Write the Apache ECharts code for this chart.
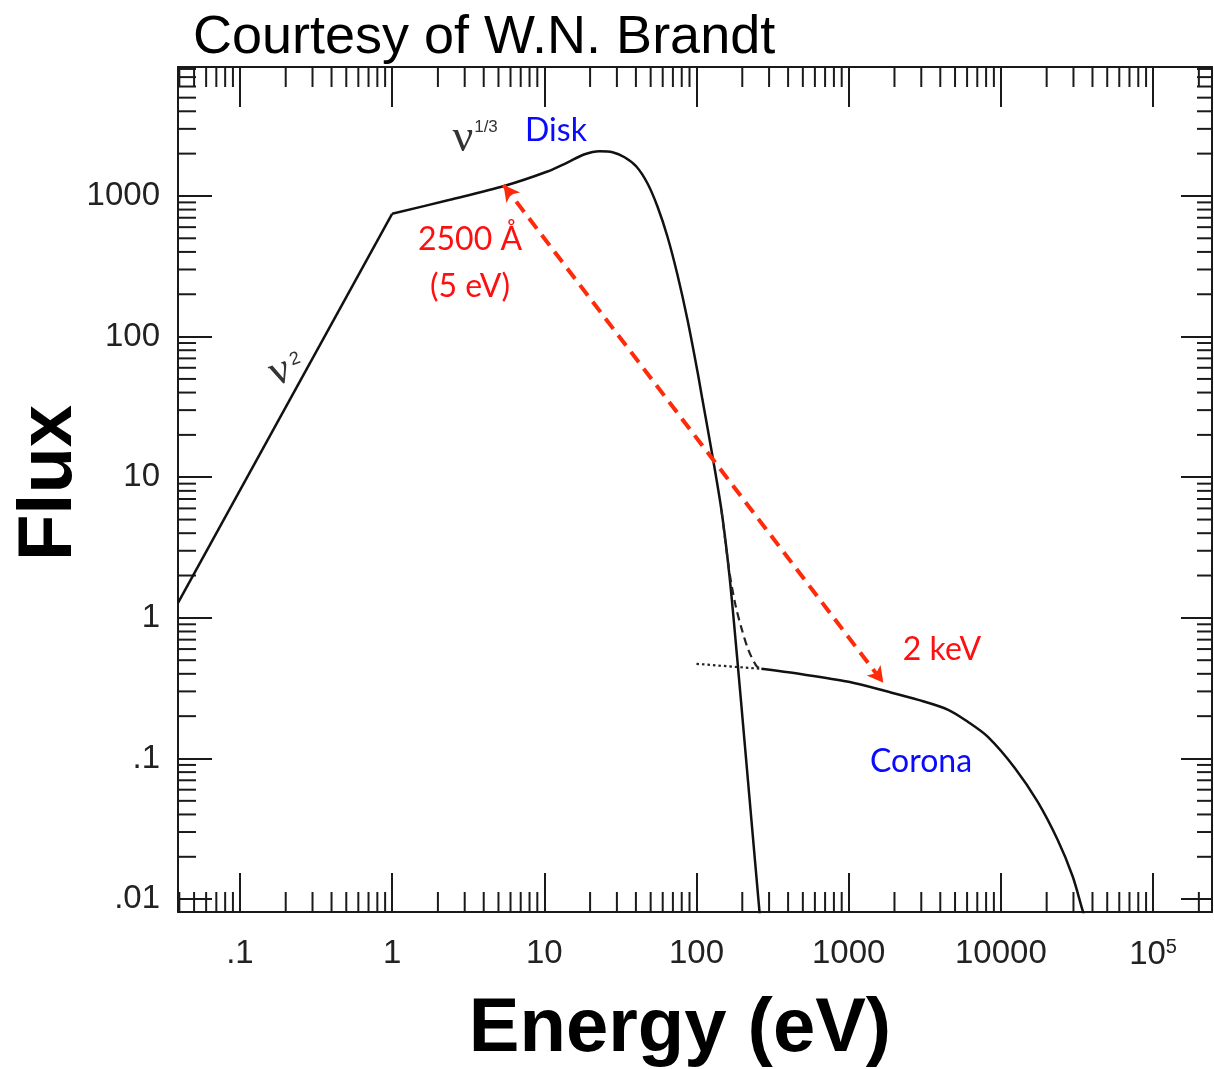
<!DOCTYPE html>
<html>
<head>
<meta charset="utf-8">
<script src="https://cdn.jsdelivr.net/npm/echarts@6/dist/echarts.min.js"></script>
<style>
html,body{margin:0;padding:0;background:#fff;}
#chart{width:1214px;height:1069px;}
</style>
</head>
<body>
<div id="chart"></div>
<script>
// ---- axis ranges & tick labels ----
const xMin = 0.0392, xMax = 244000;
const yMin = 0.0081, yMax = 8260;
const xTickExps = [-1, 0, 1, 2, 3, 4, 5];
const xTickLabels = ['.1', '1', '10', '100', '1000', '10000', '10{sup|5}'];
const yTickExps = [-2, -1, 0, 1, 2, 3];
const yTickLabels = ['.01', '.1', '1', '10', '100', '1000'];
const minorMultipliers = [2, 3, 4, 5, 6, 7, 8, 9];

// ---- disk (nu^2 rise) ----
const riseE = [0.0392, 1];
const riseF = [1.28, 747];
// ---- disk (nu^1/3 + exponential cutoff) ----
const diskE = [1, 2.4, 5.51, 10.38, 14.05, 18.44, 23.1, 28.1, 33.7, 40.4, 47.8, 55.5, 64.5, 75.0, 87.3, 101.6, 109.5, 125.3, 145.8, 164.5, 185.6, 206.5, 229.6, 263];
const diskF = [747, 940, 1182, 1486, 1722, 1981, 2080, 2047, 1885, 1614, 1222, 838, 513, 275, 131.6, 56.2, 35.5, 15.7, 5.87, 2.02, 0.503, 0.1356, 0.0366, 0.00689];
// ---- total (dashed) ----
const sumE = [145.8, 164.5, 180.3, 197.3, 219.3, 247.4, 266.9];
const sumF = [5.87, 2.13, 1.237, 0.849, 0.592, 0.456, 0.434];
// ---- corona extrapolation (dotted) ----
const dotE = [100, 266.9];
const dotF = [0.471, 0.434];
// ---- corona ----
const coronaE = [266.9, 471, 1000, 1824, 2868, 4508, 6085, 8222, 12350, 17470, 23600, 29580, 34360, 37070];
const coronaF = [0.434, 0.400, 0.351, 0.298, 0.261, 0.222, 0.182, 0.1425, 0.0857, 0.0491, 0.0264, 0.0146, 0.00838, 0.00634];
// ---- alpha_ox arrow ----
const arrowE = [5.4, 1690];
const arrowF = [1198, 0.345];

const zip = (a, b) => a.map((v, i) => [v, b[i]]);

const xMinor = [], yMinor = [];
for (let e = -2; e <= 5; e++) {
  minorMultipliers.forEach(m => {
    const v = m * Math.pow(10, e);
    if (v > xMin && v < xMax) xMinor.push([v, 1]);
    if (v > yMin && v < yMax) yMinor.push([1, v]);
  });
}

function fmt(exps, labels) {
  return function (v) {
    const l = Math.log10(v);
    const e = Math.round(l);
    if (Math.abs(l - e) > 1e-6) return '';
    const i = exps.indexOf(e);
    return i >= 0 ? labels[i] : '';
  };
}

const axisColor = '#1a1a1a';
const lblStyle = {
  fontFamily: 'Liberation Sans', fontSize: 33, color: '#222',
  rich: { sup: { fontFamily: 'Liberation Sans', fontSize: 20, color: '#222', verticalAlign: 'bottom', padding: [0, 0, 16, 0] } }
};

const curveStyle = { color: '#111', width: 2.5 };

function tickRender(isX) {
  return function (params, api) {
    const cs = params.coordSys;
    const p = api.coord([api.value(0), api.value(1)]);
    const st = { stroke: axisColor, lineWidth: 2 };
    if (isX) {
      const x = p[0];
      return { type: 'group', children: [
        { type: 'line', shape: { x1: x, y1: cs.y + cs.height, x2: x, y2: cs.y + cs.height - 20 }, style: st },
        { type: 'line', shape: { x1: x, y1: cs.y, x2: x, y2: cs.y + 20 }, style: st }
      ]};
    } else {
      const y = p[1];
      return { type: 'group', children: [
        { type: 'line', shape: { x1: cs.x, y1: y, x2: cs.x + 18, y2: y }, style: st },
        { type: 'line', shape: { x1: cs.x + cs.width, y1: y, x2: cs.x + cs.width - 15, y2: y }, style: st }
      ]};
    }
  };
}

const chart = echarts.init(document.getElementById('chart'), null, { renderer: 'canvas' });
const option = {
  animation: false,
  backgroundColor: '#fff',
  grid: { left: 178, top: 67, right: 2, bottom: 157, containLabel: false, outerBoundsMode: 'none' },
  xAxis: [
    { type: 'log', min: xMin, max: xMax, position: 'bottom',
      axisLine: { show: true, lineStyle: { color: axisColor, width: 2 } },
      axisTick: { show: true, inside: true, length: 39, lineStyle: { color: axisColor, width: 2 } },
      axisLabel: Object.assign({ margin: 25, formatter: fmt(xTickExps, xTickLabels), showMinLabel: true, showMaxLabel: true }, lblStyle),
      splitLine: { show: false } },
    { type: 'log', min: xMin, max: xMax, position: 'top',
      axisLine: { show: true, lineStyle: { color: axisColor, width: 2 } },
      axisTick: { show: true, inside: true, length: 40, lineStyle: { color: axisColor, width: 2 } },
      axisLabel: { show: false }, splitLine: { show: false } }
  ],
  yAxis: [
    { type: 'log', min: yMin, max: yMax, position: 'left',
      axisLine: { show: true, lineStyle: { color: axisColor, width: 2 } },
      axisTick: { show: true, inside: true, length: 34, lineStyle: { color: axisColor, width: 2 } },
      axisLabel: Object.assign({ margin: 18, formatter: fmt(yTickExps, yTickLabels) }, lblStyle),
      splitLine: { show: false } },
    { type: 'log', min: yMin, max: yMax, position: 'right',
      axisLine: { show: true, lineStyle: { color: axisColor, width: 2 } },
      axisTick: { show: true, inside: true, length: 31, lineStyle: { color: axisColor, width: 2 } },
      axisLabel: { show: false }, splitLine: { show: false } }
  ],
  series: [
    { type: 'custom', silent: true, data: xMinor, renderItem: tickRender(true), clip: false },
    { type: 'custom', silent: true, data: yMinor, renderItem: tickRender(false), clip: false },
    { name: 'rise', type: 'line', data: zip(riseE, riseF), showSymbol: false, lineStyle: curveStyle, clip: true },
    { name: 'disk', type: 'line', data: zip(diskE, diskF), showSymbol: false, smooth: 0.3, lineStyle: curveStyle, clip: true },
    { name: 'sum', type: 'line', data: zip(sumE, sumF), showSymbol: false, smooth: 0.3, lineStyle: { color: '#222', width: 2.2, type: [8, 5] }, clip: true },
    { name: 'dotted', type: 'line', data: zip(dotE, dotF), showSymbol: false, lineStyle: { color: '#222', width: 2.2, type: [2.5, 3] }, clip: true },
    { name: 'corona', type: 'line', data: zip(coronaE, coronaF), showSymbol: false, smooth: 0.3, lineStyle: curveStyle, clip: true,
      markLine: {
        silent: true, symbol: ['arrow', 'arrow'], symbolSize: [13, 16],
        label: { show: false },
        lineStyle: { color: '#ff2a0a', width: 4, type: [13, 8] },
        data: [[{ coord: [arrowE[0], arrowF[0]] }, { coord: [arrowE[1], arrowF[1]] }]]
      } }
  ],
  graphic: [
    { type: 'text', x: 193, y: 38, style: { text: 'Courtesy of W.N. Brandt', font: '54px "Liberation Sans"', fill: '#000', align: 'left', verticalAlign: 'middle' } },
    { type: 'text', x: 50, y: 483, rotation: Math.PI / 2, style: { text: 'Flux', font: 'bold 76px "Liberation Sans"', fill: '#000', align: 'center', verticalAlign: 'middle' } },
    { type: 'text', x: 680, y: 1030, style: { text: 'Energy (eV)', font: 'bold 76px "Liberation Sans"', fill: '#000', align: 'center', verticalAlign: 'middle' } },
    { type: 'text', x: 463, y: 139, style: { text: 'ν', font: '46px "Liberation Serif"', fill: '#333', align: 'center', verticalAlign: 'middle' } },
    { type: 'text', x: 486, y: 127, style: { text: '1/3', font: '17px "Liberation Sans"', fill: '#333', align: 'center', verticalAlign: 'middle' } },
    { type: 'text', x: 280, y: 372, rotation: 0.35, style: { text: 'ν', font: '44px "Liberation Serif"', fill: '#333', align: 'center', verticalAlign: 'middle' } },
    { type: 'text', x: 295, y: 359, rotation: 0.35, style: { text: '2', font: '18px "Liberation Sans"', fill: '#333', align: 'center', verticalAlign: 'middle' } },
    { type: 'text', x: 556, y: 131, style: { text: 'Disk', font: '32px Lato', fill: '#0a0aff', align: 'center', verticalAlign: 'middle' } },
    { type: 'text', x: 470, y: 240, style: { text: '2500 Å', font: '32px Lato', fill: '#ff1010', align: 'center', verticalAlign: 'middle' } },
    { type: 'text', x: 470, y: 287, style: { text: '(5 eV)', font: '32px Lato', fill: '#ff1010', align: 'center', verticalAlign: 'middle' } },
    { type: 'text', x: 942, y: 650, style: { text: '2 keV', font: '32px Lato', fill: '#ff1010', align: 'center', verticalAlign: 'middle' } },
    { type: 'text', x: 921, y: 762, style: { text: 'Corona', font: '32px Lato', fill: '#0a0aff', align: 'center', verticalAlign: 'middle' } }
  ]
};
chart.setOption(option);
</script>
</body>
</html>
